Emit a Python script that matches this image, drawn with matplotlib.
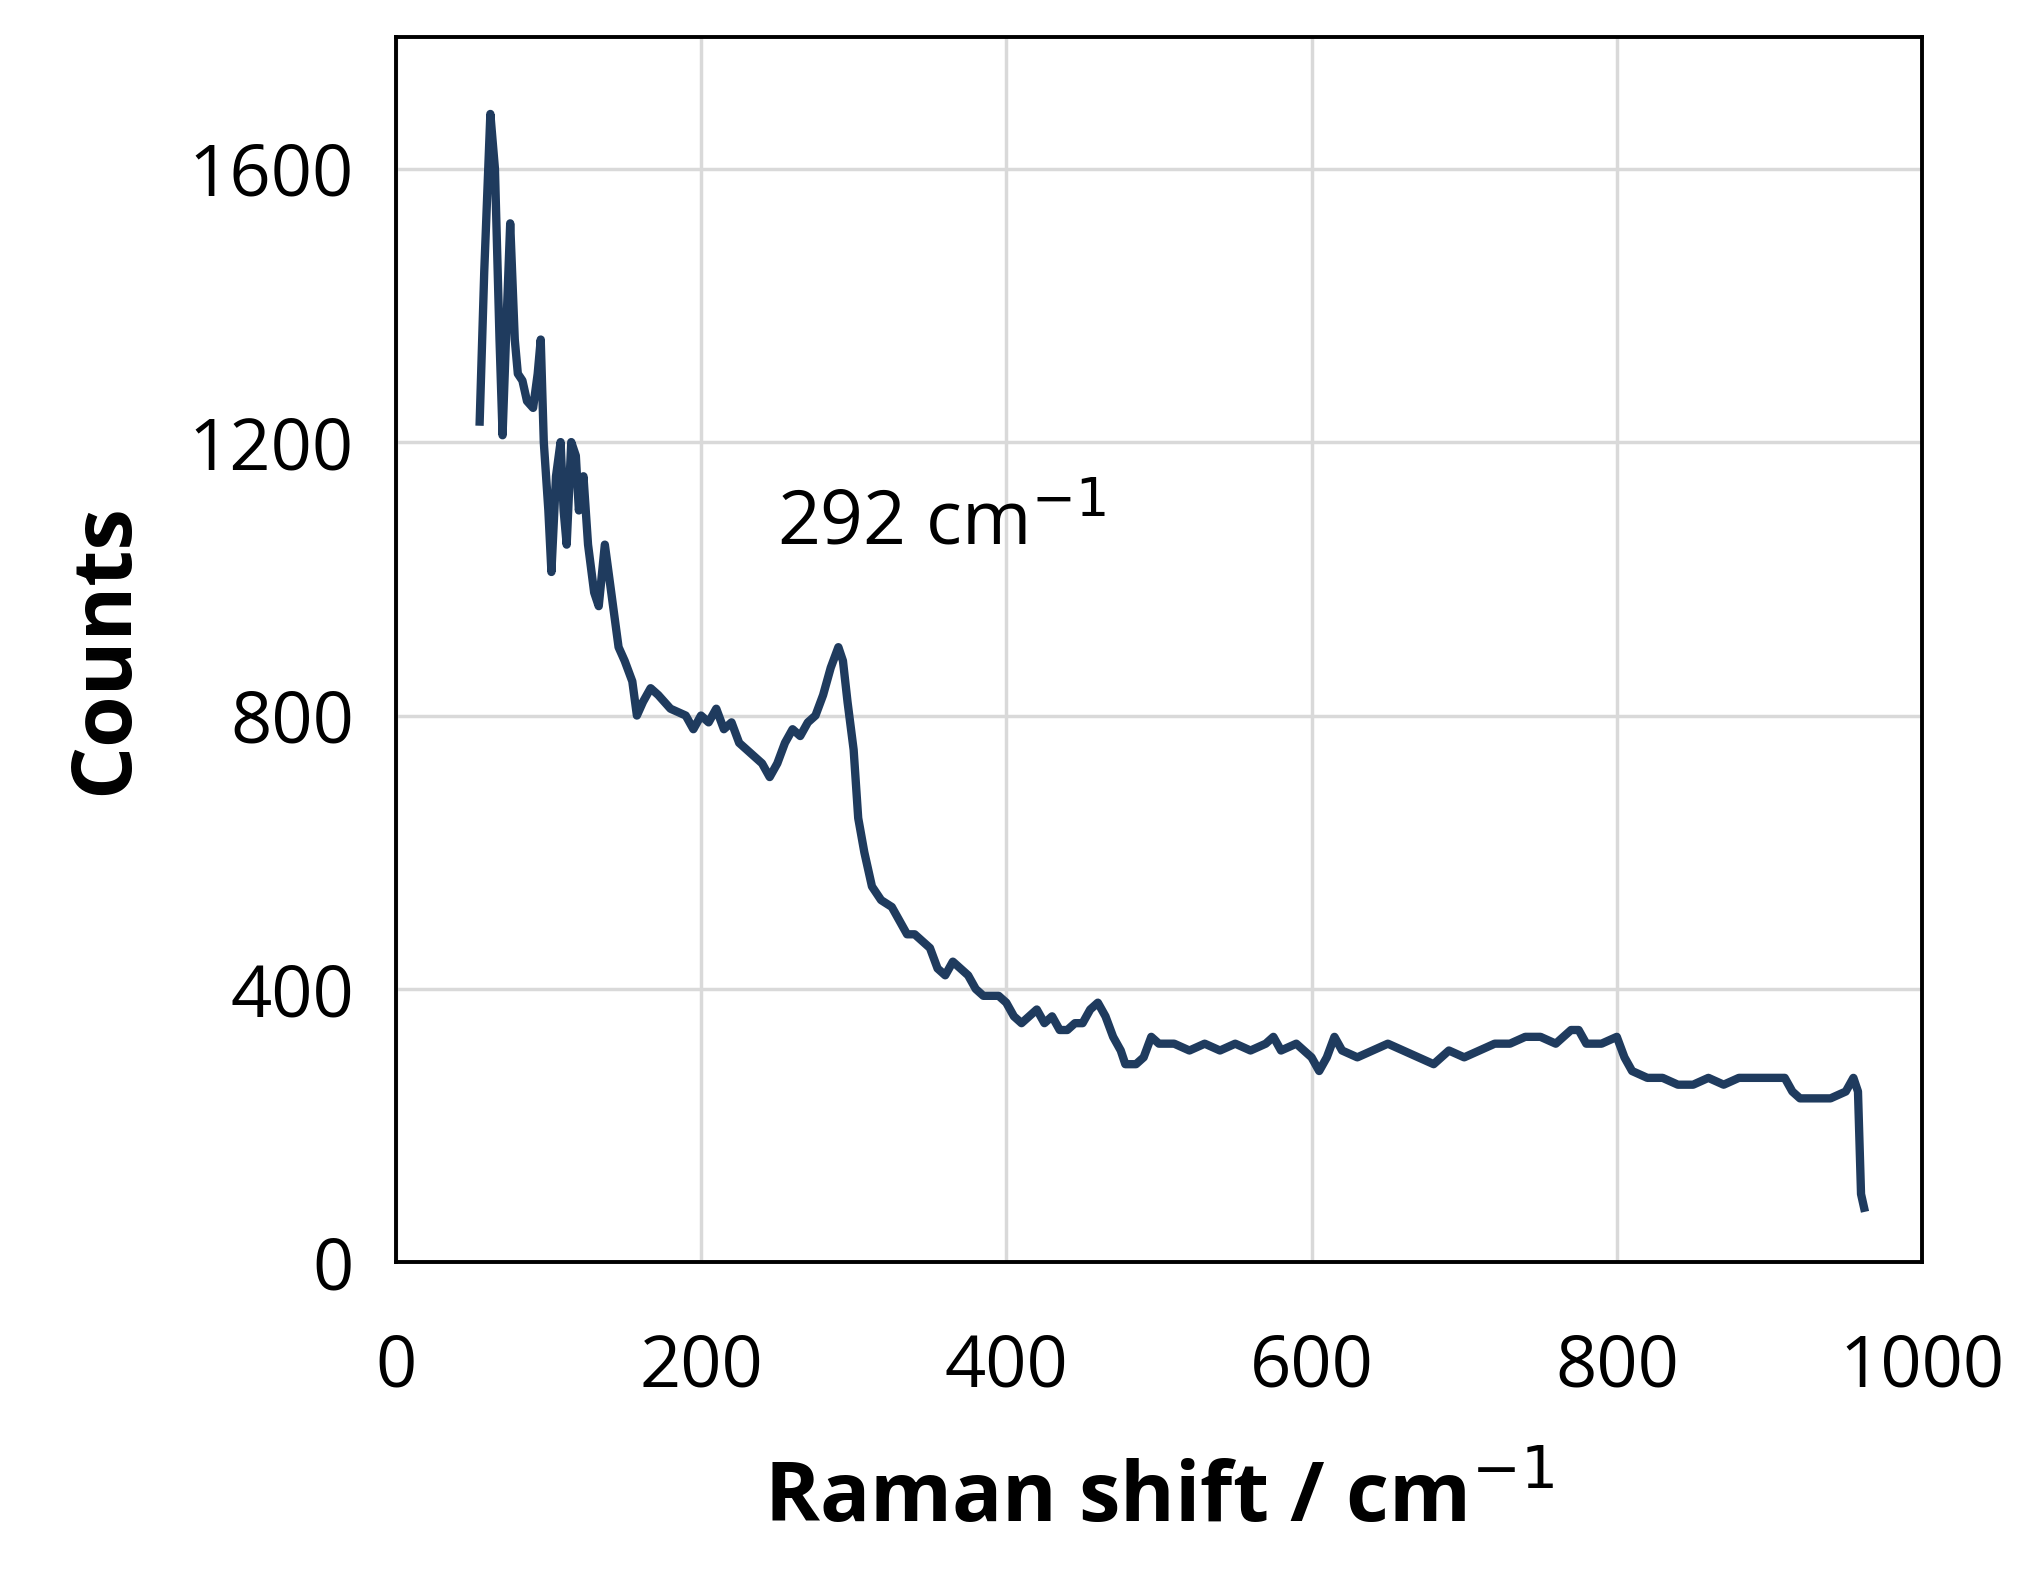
import matplotlib
matplotlib.use("Agg")
import matplotlib.pyplot as plt

shift = [55,58,62,65,68,70,73,75,78,80,83,86,90,93,95,97,100,102,105,108,110,112,115,118,120,123,126,130,133,137,140,143,146,150,155,158,162,167,172,180,190,195,200,205,210,215,220,225,230,235,240,245,250,255,260,265,270,275,280,285,290,293,296,300,303,307,312,318,325,330,335,340,345,350,355,360,365,370,375,380,385,390,395,400,405,410,415,420,425,430,435,440,445,450,455,460,465,470,475,478,485,490,495,500,510,520,530,540,550,560,570,575,580,590,600,605,610,615,620,630,640,650,660,670,680,690,700,710,720,730,740,750,760,770,775,780,790,800,805,810,820,830,840,850,860,870,880,890,900,910,915,920,930,940,950,955,958,960,962]
counts = [1230,1450,1680,1600,1350,1210,1400,1520,1350,1300,1290,1260,1250,1300,1350,1200,1100,1010,1150,1200,1100,1050,1200,1180,1100,1150,1050,980,960,1050,1000,950,900,880,850,800,820,840,830,810,800,780,800,790,810,780,790,760,750,740,730,710,730,760,780,770,790,800,830,870,900,880,820,750,650,600,550,530,520,500,480,480,470,460,430,420,440,430,420,400,390,390,390,380,360,350,360,370,350,360,340,340,350,350,370,380,360,330,310,290,290,300,330,320,320,310,320,310,320,310,320,330,310,320,300,280,300,330,310,300,310,320,310,300,290,310,300,310,320,320,330,330,320,340,340,320,320,330,300,280,270,270,260,260,270,260,270,270,270,270,250,240,240,240,250,270,250,100,80]
xticks = [0,200,400,600,800,1000]
yticks = [0,400,800,1200,1600]

plt.rcParams['font.family'] = ['Open Sans', 'DejaVu Sans']
fig = plt.figure(figsize=(20.19, 15.96), dpi=100)
ax = fig.add_axes([0.196, 0.209, 0.756, 0.768])
ax.plot(shift, counts, color='#1f3b5e', lw=6)
ax.set_xlim(0, 1000)
ax.set_ylim(0, 1793)
ax.set_xticks(xticks)
ax.set_yticks(yticks)
ax.grid(True, color='#d9d9d9', lw=2.5)
ax.set_axisbelow(True)
for s in ax.spines.values():
    s.set_linewidth(2.8)
    s.set_color('black')
ax.tick_params(length=0, labelsize=52, pad=30)
ax.tick_params(axis='x', pad=50)
ax.set_xlabel('Raman shift / cm$^{-1}$', fontsize=60, fontweight='bold', labelpad=40)
ax.set_ylabel('Counts', fontsize=60, fontweight='bold', labelpad=30)
ax.text(250, 1050, '292 cm$^{-1}$', fontsize=54)
fig.savefig('out.png', dpi=100)
